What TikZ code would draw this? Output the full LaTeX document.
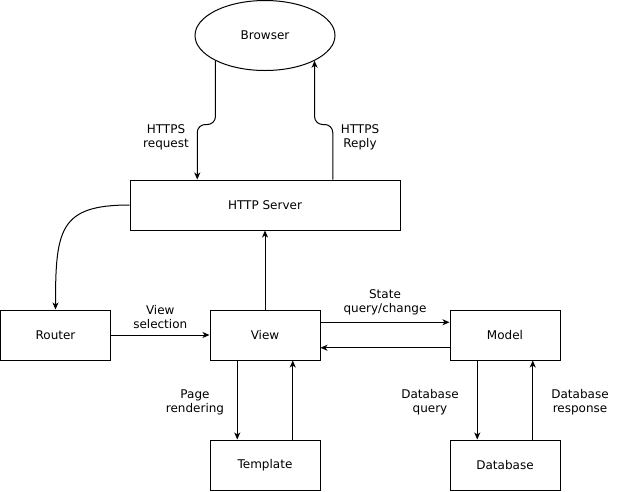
\documentclass[tikz,border=0pt]{standalone}
\usepackage{fontspec}
\setmainfont{DejaVu Sans}
\usetikzlibrary{shapes.geometric,arrows.meta,calc}

\begin{document}
\begin{tikzpicture}[x=1pt,y=-1pt,line width=1pt,
	font=\fontsize{12}{14}\selectfont,
	box/.style={draw,minimum width=110pt,minimum height=50pt,inner sep=0pt},
	lbl/.style={align=center,inner sep=0pt},
	arr/.style={-{Stealth[length=7pt,width=6pt,inset=2pt]}}]
\useasboundingbox (0,0) rectangle (621,491);

% parts of the web app
\node[draw,ellipse,minimum width=140pt,minimum height=70pt] (browser) at (265,35.5) {Browser};
\node[box,minimum width=270pt] (server) at (265,205) {HTTP Server};
\node[box] (router) at (55.5,335) {Router};
\node[box] (view) at (265,335) {View};
\node[box] (model) at (505,335) {Model};
\node[box] (template) at (265,465) {Template};
\node[box] (database) at (505,465) {Database};

% ends of the browser links on the server
\coordinate (sreq) at ($(server.north west)!0.25!(server.north east)$);
\coordinate (srep) at ($(server.north west)!0.75!(server.north east)$);

\draw[arr,rounded corners=8pt] (browser.-153) |- ($(sreq)+(0,-55)$) -- (sreq);
\draw[arr,rounded corners=8pt] (srep) -- ($(srep)+(0,-55)$) -| (browser.-27);
\node[lbl] (lreq) at (166,137) {HTTPS\\request};
\node[lbl] (lrep) at (360,137) {HTTPS\\Reply};

\draw[arr] (server.west) .. controls +(-70,0) and +(0,-80) .. (router.north);
\draw[arr] (view.north) -- (server.south);
\draw[arr] (router.east) -- node[lbl,above=6pt] (lsel) {View\\selection} (view.west);

\draw[arr] ($(view.north east)!0.25!(view.south east)$) -- node[lbl,above=7pt] (lstate) {State\\query/change} ($(model.north west)!0.25!(model.south west)$);
\draw[arr] ($(model.north west)!0.75!(model.south west)$) -- ($(view.north east)!0.75!(view.south east)$);

\draw[arr] ($(view.south west)!0.25!(view.south east)$) -- ($(template.north west)!0.25!(template.north east)$);
\draw[arr] ($(template.north west)!0.75!(template.north east)$) -- ($(view.south west)!0.75!(view.south east)$);
\node[lbl] (lpage) at (195,402) {Page\\rendering};

\draw[arr] ($(model.south west)!0.25!(model.south east)$) -- ($(database.north west)!0.25!(database.north east)$);
\draw[arr] ($(database.north west)!0.75!(database.north east)$) -- ($(model.south west)!0.75!(model.south east)$);
\node[lbl] (lquery) at (430,402) {Database\\query};
\node[lbl] (lresp) at (580,402) {Database\\response};
\end{tikzpicture}
\end{document}
